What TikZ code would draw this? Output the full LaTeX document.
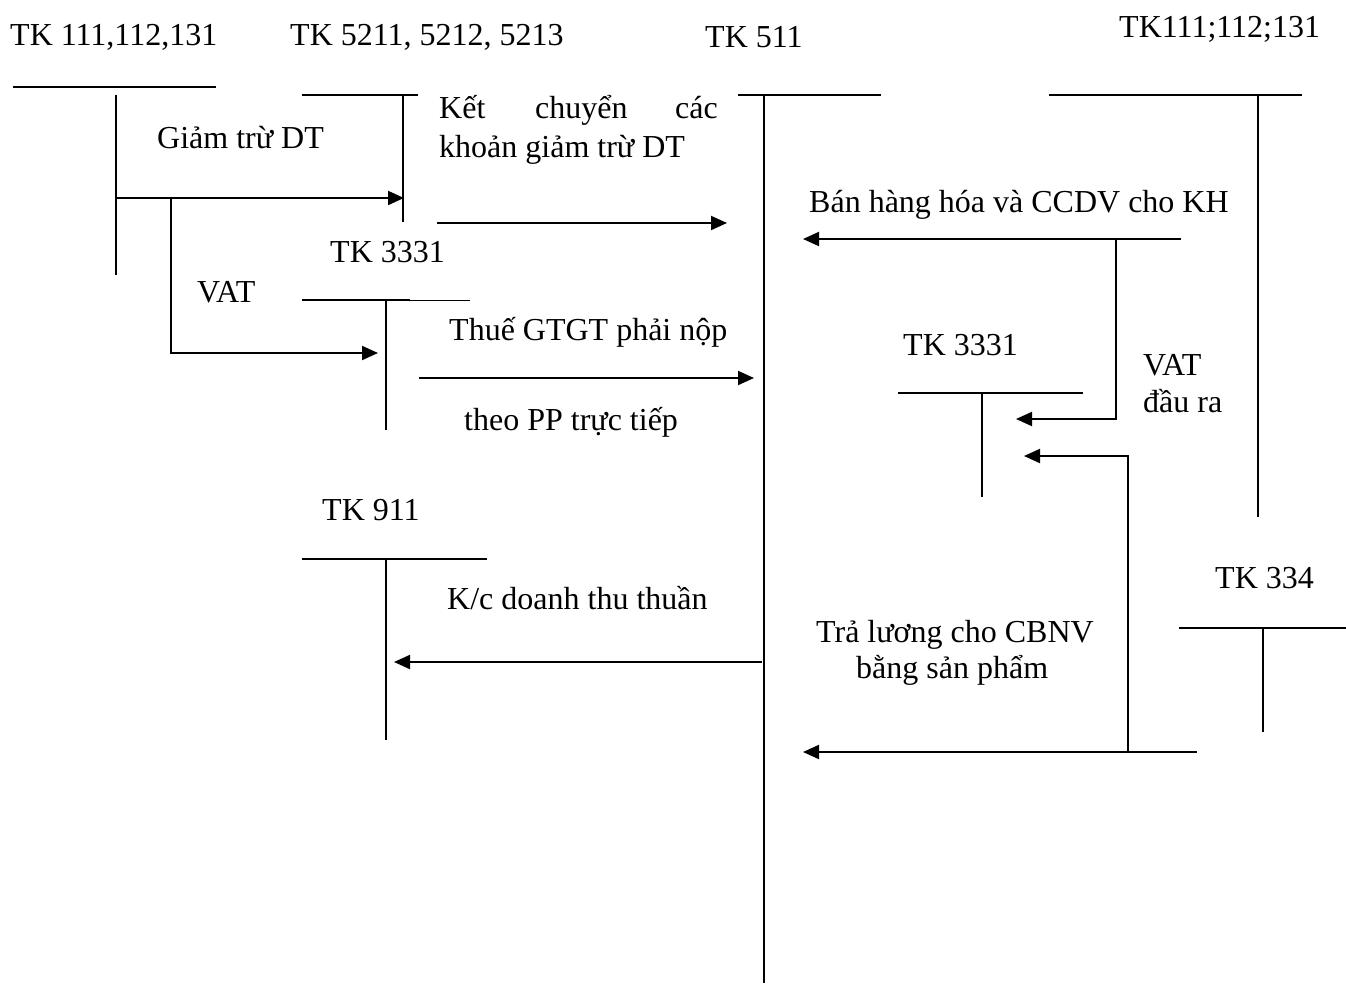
\documentclass[tikz,border=0pt]{standalone}
\usepackage{fontspec}
\setmainfont{Liberation Serif}
\usetikzlibrary{arrows.meta}
\begin{document}
\begin{tikzpicture}[x=1pt,y=-1pt,
  lbl/.style={anchor=base west,inner sep=0pt,font=\fontsize{32}{38}\selectfont},
  acct/.style={line width=2pt},
  thinacct/.style={line width=1pt},
  flow/.style={line width=2pt,-{Triangle[length=16pt,width=14pt]}},
  plain/.style={line width=2pt}]
\useasboundingbox (0,0) rectangle (1346,983);
% ---------- labels ----------
\node[lbl] (tA) at (10,45) {TK 111,112,131};
\node[lbl] (tB) at (290,45) {TK 5211, 5212, 5213};
\node[lbl] (tC) at (705,47) {TK 511};
\node[lbl] (tD) at (1119,37) {TK111;112;131};
\node[lbl] (tE) at (330,262) {TK 3331};
\node[lbl] (tF) at (903,355) {TK 3331};
\node[lbl] (tG) at (322,520) {TK 911};
\node[lbl] (tH) at (1215,588) {TK 334};
\node[lbl] (l1) at (157,148) {Giảm trừ DT};
\node[lbl] (l2a) at (439,118) {Kết};
\node[lbl] (l2b) at (535,118) {chuyển};
\node[lbl,anchor=base east] (l2c) at (718,118) {các};
\node[lbl] (l2d) at (439,157) {khoản giảm trừ DT};
\node[lbl] (l3) at (197,302) {VAT};
\node[lbl] (l4a) at (449,340) {Thuế GTGT phải nộp};
\node[lbl] (l4b) at (464,430) {theo PP trực tiếp};
\node[lbl] (l5) at (809,212) {Bán hàng hóa và CCDV cho KH};
\node[lbl] (l6a) at (1143,375) {VAT};
\node[lbl] (l6b) at (1143,412) {đầu ra};
\node[lbl] (l7) at (447,609) {K/c doanh thu thuần};
\node[lbl] (l8a) at (816,642) {Trả lương cho CBNV};
\node[lbl] (l8b) at (856,678) {bằng sản phẩm};
% ---------- T-accounts ----------
% TK 111,112,131 (left)
\coordinate (a1) at (13,87); \coordinate (a2) at (216,87);
\coordinate (a3) at (116,95); \coordinate (a4) at (116,275);
\draw[acct] (a1) -- (a2); \draw[acct] (a3) -- (a4);
% TK 5211
\coordinate (b1) at (302,95); \coordinate (b2) at (418,95);
\coordinate (b3) at (403,95); \coordinate (b4) at (403,222);
\draw[acct] (b1) -- (b2); \draw[acct] (b3) -- (b4);
% TK 511
\coordinate (c1) at (738,95); \coordinate (c2) at (881,95);
\coordinate (c3) at (764,95); \coordinate (c4) at (764,983);
\draw[acct] (c1) -- (c2); \draw[acct] (c3) -- (c4);
% TK111;112;131 (right)
\coordinate (d1) at (1049,95); \coordinate (d2) at (1302,95);
\coordinate (d3) at (1258,95); \coordinate (d4) at (1258,517);
\draw[acct] (d1) -- (d2); \draw[acct] (d3) -- (d4);
% TK 3331 (left)
\coordinate (e1) at (302,300); \coordinate (e2) at (410,300); \coordinate (e5) at (470,300);
\coordinate (e3) at (386,300); \coordinate (e4) at (386,430);
\draw[acct] (e1) -- (e2); \draw[thinacct] (e2) -- (e5); \draw[acct] (e3) -- (e4);
% TK 3331 (right)
\coordinate (f1) at (898,393); \coordinate (f2) at (1083,393);
\coordinate (f3) at (982,393); \coordinate (f4) at (982,497);
\draw[acct] (f1) -- (f2); \draw[acct] (f3) -- (f4);
% TK 911
\coordinate (g1) at (302,559); \coordinate (g2) at (487,559);
\coordinate (g3) at (386,559); \coordinate (g4) at (386,740);
\draw[acct] (g1) -- (g2); \draw[acct] (g3) -- (g4);
% TK 334
\coordinate (h1) at (1179,628); \coordinate (h2) at (1346,628);
\coordinate (h3) at (1263,628); \coordinate (h4) at (1263,732);
\draw[acct] (h1) -- (h2); \draw[acct] (h3) -- (h4);
% ---------- flows ----------
\coordinate (p1s) at (116,198); \coordinate (p1e) at (404,198);
\draw[flow] (p1s) -- (p1e);
\coordinate (p2s) at (171,198); \coordinate (p2m) at (171,353); \coordinate (p2e) at (378,353);
\draw[flow] (p2s) -- (p2m) -- (p2e);
\coordinate (p3s) at (437,223); \coordinate (p3e) at (727,223);
\draw[flow] (p3s) -- (p3e);
\coordinate (p4s) at (419,378); \coordinate (p4e) at (754,378);
\draw[flow] (p4s) -- (p4e);
\coordinate (p5s) at (1181,239); \coordinate (p5e) at (803,239);
\draw[flow] (p5s) -- (p5e);
\coordinate (p6s) at (1116,239); \coordinate (p6m) at (1116,419); \coordinate (p6e) at (1016,419);
\draw[flow] (p6s) -- (p6m) -- (p6e);
\coordinate (p7s) at (762,662); \coordinate (p7e) at (394,662);
\draw[flow] (p7s) -- (p7e);
\coordinate (p8s) at (1197,752); \coordinate (p8e) at (803,752);
\draw[flow] (p8s) -- (p8e);
\coordinate (p9s) at (1128,752); \coordinate (p9m) at (1128,456); \coordinate (p9e) at (1024,456);
\draw[flow] (p9s) -- (p9m) -- (p9e);
\end{tikzpicture}
\end{document}
